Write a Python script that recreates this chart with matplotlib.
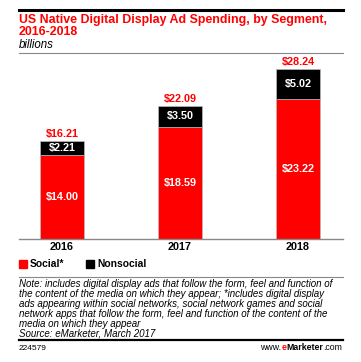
import numpy as np
import matplotlib
matplotlib.use('Agg')
import matplotlib.pyplot as plt
from matplotlib.lines import Line2D
from matplotlib.patches import Rectangle

plt.rcParams['font.family'] = ['Liberation Sans', 'DejaVu Sans']

# ============================================================
# data
# ============================================================
years     = ['2016', '2017', '2018']
social    = [14.00, 18.59, 23.22]
nonsocial = [2.21, 3.50, 5.02]
totals    = [16.21, 22.09, 28.24]

RED = '#ff0000'
W, H = 361, 362

fig = plt.figure(figsize=(W / 100, H / 100), dpi=100)


def fx(px):
    return px / W


def fy(py):
    # py measured from top
    return 1 - py / H


# ── bars ────────────────────────────────────────────────────
ax = fig.add_axes([fx(19), fy(239), fx(343 - 19), (239 - 60) / H])
x = np.arange(len(years))
ax.bar(x, social, width=0.373, color=RED, edgecolor='#bbbbbb', linewidth=0.5)
ax.bar(x, nonsocial, bottom=social, width=0.373, color='black',
       edgecolor='#bbbbbb', linewidth=0.5)
ax.set_xlim(-(62 - 19) / 118, (343 - 62) / 118)
ax.set_ylim(0, 179 / 6.03)
for s in ['top', 'right', 'left']:
    ax.spines[s].set_visible(False)
ax.spines['bottom'].set_color('#888888')
ax.spines['bottom'].set_linewidth(1.0)
ax.set_yticks([])
ax.set_xticks(x)
ax.set_xticklabels(years, fontsize=7.8, fontweight='bold')
ax.tick_params(axis='x', length=0, pad=2.5)

for i in range(len(years)):
    ax.text(x[i], social[i] / 2, f'${social[i]:.2f}', ha='center', va='center',
            color='white', fontsize=7.8, fontweight='bold')
    ax.text(x[i], social[i] + nonsocial[i] / 2, f'${nonsocial[i]:.2f}',
            ha='center', va='center', color='white', fontsize=7.8,
            fontweight='bold')
    ax.text(x[i], totals[i] + 0.3, f'${totals[i]:.2f}', ha='center',
            va='bottom', color=RED, fontsize=7.8, fontweight='bold')

# ── header ──────────────────────────────────────────────────
fig.add_artist(Line2D([fx(19), fx(343)], [fy(10), fy(10)], color='black', lw=2.2))
fig.text(fx(19), fy(14), 'US Native Digital Display Ad Spending, by Segment,\n2016-2018',
         ha='left', va='top', color=RED, fontsize=8.9, fontweight='bold',
         linespacing=1.0)
fig.text(fx(19), fy(45), 'billions', ha='left', va='center', color='black',
         fontsize=8.3, style='italic')
fig.add_artist(Line2D([fx(19), fx(343)], [fy(53), fy(53)], color='#888888', lw=0.8))

# ── legend ──────────────────────────────────────────────────
fig.add_artist(Rectangle((fx(19), fy(268)), fx(8), 8 / H, color=RED))
fig.text(fx(30), fy(264), 'Social*', ha='left', va='center', fontsize=7.4,
         fontweight='bold')
fig.add_artist(Rectangle((fx(86), fy(268)), fx(8), 8 / H, color='black'))
fig.text(fx(97), fy(264), 'Nonsocial', ha='left', va='center', fontsize=7.4,
         fontweight='bold')

# ── note ────────────────────────────────────────────────────
fig.add_artist(Line2D([fx(19), fx(343)], [fy(277), fy(277)], color='#888888', lw=0.8))
note = ('Note: includes digital display ads that follow the form, feel and function of\n'
        'the content of the media on which they appear; *includes digital display\n'
        'ads appearing within social networks, social network games and social\n'
        'network apps that follow the form, feel and function of the content of the\n'
        'media on which they appear\n'
        'Source: eMarketer, March 2017')
fig.text(fx(19), fy(279), note, ha='left', va='top', fontsize=7.0,
         style='italic', linespacing=0.99)

# ── footer ──────────────────────────────────────────────────
fig.add_artist(Line2D([fx(19), fx(343)], [fy(340), fy(340)], color='black', lw=1.6))
fig.text(fx(19), fy(348), '224579', ha='left', va='center', fontsize=6.0)

renderer = fig.canvas.get_renderer()
xr = fx(342)
for txt, col, wt in [('.com', 'black', 'normal'), ('Marketer', 'black', 'bold'),
                     ('e', RED, 'bold'), ('www.', 'black', 'normal')]:
    t = fig.text(xr, fy(348), txt, ha='right', va='center', fontsize=6.3,
                 color=col, fontweight=wt)
    bb = t.get_window_extent(renderer)
    xr -= bb.width / W

fig.savefig('out.png', dpi=100)
